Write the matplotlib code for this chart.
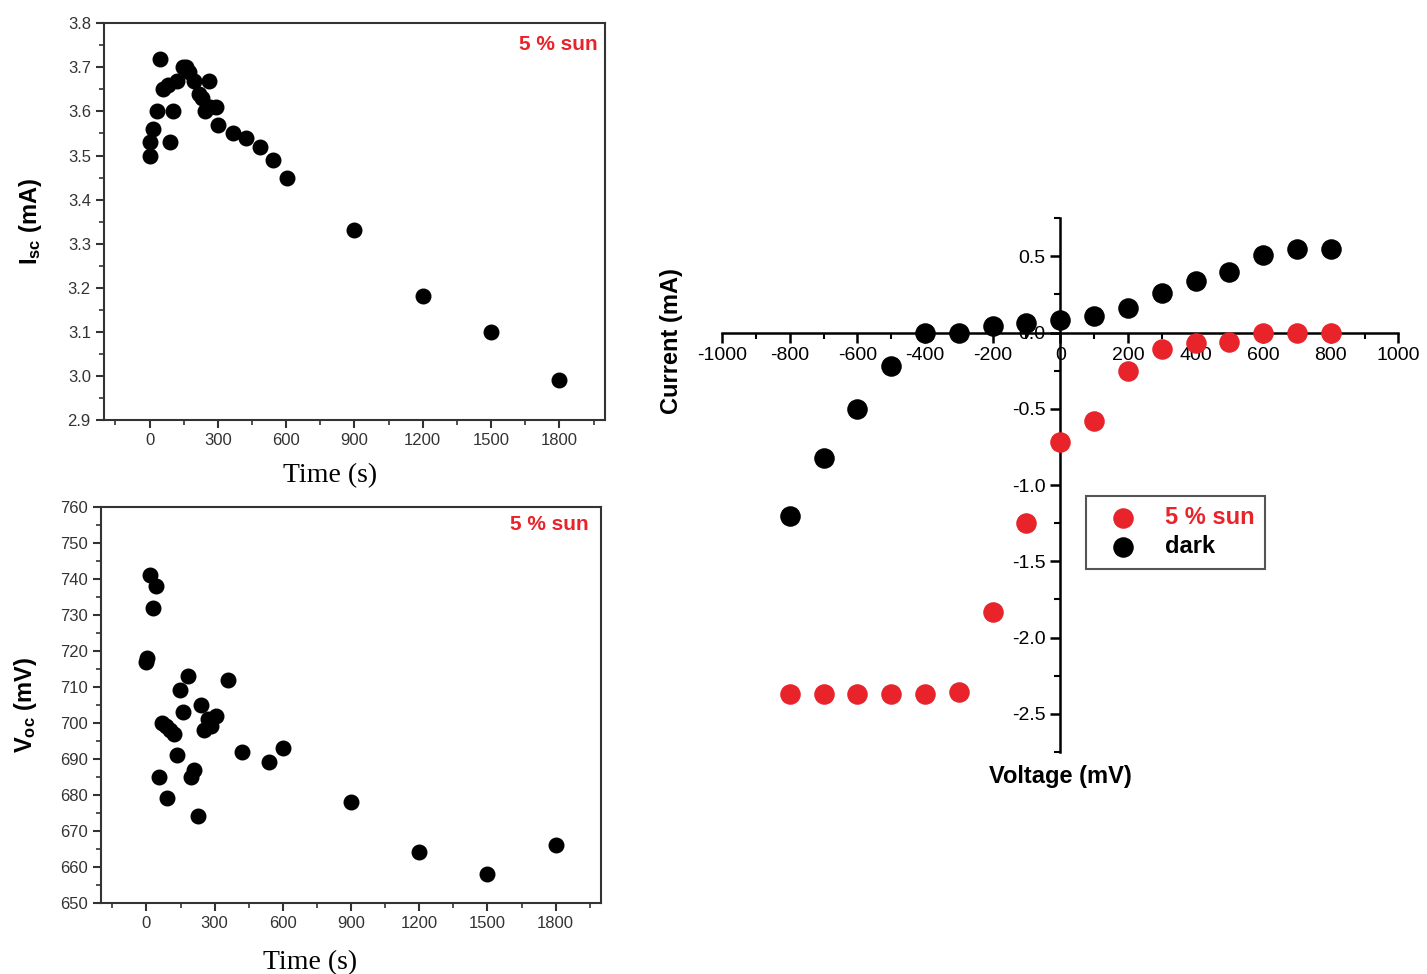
import matplotlib
matplotlib.use("Agg")
import matplotlib.pyplot as plt
from matplotlib.ticker import MultipleLocator

plt.rcParams['font.family'] = ['Liberation Sans', 'DejaVu Sans']
plt.rcParams['mathtext.fontset'] = 'custom'
plt.rcParams['mathtext.rm'] = 'Liberation Sans'
plt.rcParams['mathtext.bf'] = 'Liberation Sans:bold'
plt.rcParams['axes.unicode_minus'] = False

RED = '#e8232a'

# Isc vs time (5 % sun)
t_isc = [0, 3, 17, 33, 47, 61, 82, 90, 104, 120, 146, 160, 174, 194, 215, 229, 243,
         259, 267, 290, 302, 365, 424, 483, 542, 602, 900, 1200, 1500, 1800]
isc = [3.50, 3.53, 3.56, 3.60, 3.72, 3.65, 3.66, 3.53, 3.60, 3.67, 3.70, 3.70, 3.69,
       3.67, 3.64, 3.63, 3.60, 3.67, 3.61, 3.61, 3.57, 3.55, 3.54, 3.52, 3.49, 3.45,
       3.33, 3.18, 3.10, 2.99]

# Voc vs time (5 % sun)
t_voc = [0, 3, 14, 30, 43, 57, 70, 87, 90, 104, 122, 134, 148, 162, 183, 195, 209,
         226, 240, 252, 270, 283, 304, 360, 421, 539, 600, 900, 1200, 1500, 1800]
voc = [717, 718, 741, 732, 738, 685, 700, 699, 679, 698, 697, 691, 709, 703, 713, 685,
       687, 674, 705, 698, 701, 699, 702, 712, 692, 689, 693, 678, 664, 658, 666]

# I-V curves
volt = [-800, -700, -600, -500, -400, -300, -200, -100, 0, 100, 200, 300, 400, 500, 600, 700, 800]
i_dark = [-1.20, -0.82, -0.50, -0.22, 0.00, 0.00, 0.04, 0.06, 0.08, 0.11, 0.16, 0.26,
          0.34, 0.40, 0.51, 0.55, 0.55]
i_sun = [-2.37, -2.37, -2.37, -2.37, -2.37, -2.36, -1.83, -1.25, -0.72, -0.58, -0.25,
         -0.11, -0.07, -0.06, 0.00, 0.00, 0.00]

fig = plt.figure(figsize=(14.27, 9.74), dpi=100)


def time_panel(ax, t, y, ylim, major, minor, ylabel, xlab_pos, sun_pos):
    ax.scatter(t, y, s=110, color='black', zorder=3)
    ax.set_xlim(-200, 2000)
    ax.set_ylim(*ylim)
    ax.set_xticks(range(0, 1801, 300))
    ax.xaxis.set_minor_locator(MultipleLocator(150))
    ax.yaxis.set_major_locator(MultipleLocator(major))
    ax.yaxis.set_minor_locator(MultipleLocator(minor))
    for s in ax.spines.values():
        s.set_linewidth(1.5)
        s.set_color('#333333')
    ax.tick_params(which='major', direction='out', length=6, width=1.5, colors='#333333',
                   labelsize=12)
    ax.tick_params(which='minor', direction='out', length=3.5, width=1.2, colors='#333333')
    ax.set_xlabel('Time (s)', fontfamily=['Liberation Serif'], fontsize=20)
    ax.xaxis.set_label_coords(*xlab_pos)
    ax.set_ylabel(ylabel, fontsize=17, fontweight='bold')
    ax.text(sun_pos[0], sun_pos[1], '5 % sun', color=RED, fontsize=15, fontweight='bold',
            ha='right', va='center', transform=ax.transAxes)


ax1 = fig.add_axes([0.0729, 0.569, 0.351, 0.407])
time_panel(ax1, t_isc, isc, (2.9, 3.8), 0.1, 0.05, r'$\mathbf{I_{sc}}$ (mA)',
           (0.451, -0.11), (0.986, 0.947))
ax1.yaxis.set_label_coords(-0.12, 0.5)

ax2 = fig.add_axes([0.0708, 0.073, 0.3504, 0.4066])
time_panel(ax2, t_voc, voc, (650, 760), 10, 5, r'$\mathbf{V_{oc}}$ (mV)',
           (0.418, -0.12), (0.976, 0.955))
ax2.yaxis.set_label_coords(-0.125, 0.5)

# I-V panel
ax3 = fig.add_axes([0.506, 0.228, 0.474, 0.548])
ax3.scatter(volt, i_sun, s=190, color=RED, zorder=3, label='5 % sun')
ax3.scatter(volt, i_dark, s=190, color='black', zorder=3, label='dark')
ax3.set_xlim(-1000, 1000)
ax3.set_ylim(-2.75, 0.75)
ax3.spines['left'].set_position(('data', 0))
ax3.spines['bottom'].set_position(('data', 0))
ax3.spines['top'].set_visible(False)
ax3.spines['right'].set_visible(False)
for s in ('left', 'bottom'):
    ax3.spines[s].set_linewidth(1.8)
ax3.set_xticks(range(-1000, 1001, 200))
ax3.xaxis.set_minor_locator(MultipleLocator(100))
ax3.set_yticks([-2.5, -2.0, -1.5, -1.0, -0.5, 0.0, 0.5])
ax3.yaxis.set_minor_locator(MultipleLocator(0.25))
ax3.tick_params(which='major', direction='out', length=7, width=1.8, labelsize=14)
ax3.tick_params(which='minor', direction='out', length=4, width=1.5)
ax3.set_xlabel('Voltage (mV)', fontsize=17, fontweight='bold')
ax3.xaxis.set_label_coords(0.5, -0.025)
ax3.set_ylabel('Current (mA)', fontsize=17, fontweight='bold')
ax3.yaxis.set_label_coords(-0.058, 0.77)
leg = ax3.legend(loc='upper left', bbox_to_anchor=(0.538, 0.48), fancybox=False,
                 edgecolor='#555555', prop={'weight': 'bold', 'size': 17},
                 handlelength=2.2, handletextpad=0.7, borderpad=0.45, labelspacing=0.25,
                 borderaxespad=0, framealpha=1)
leg.get_frame().set_linewidth(1.5)
leg.get_texts()[0].set_color(RED)

fig.savefig('out.png', dpi=100)
